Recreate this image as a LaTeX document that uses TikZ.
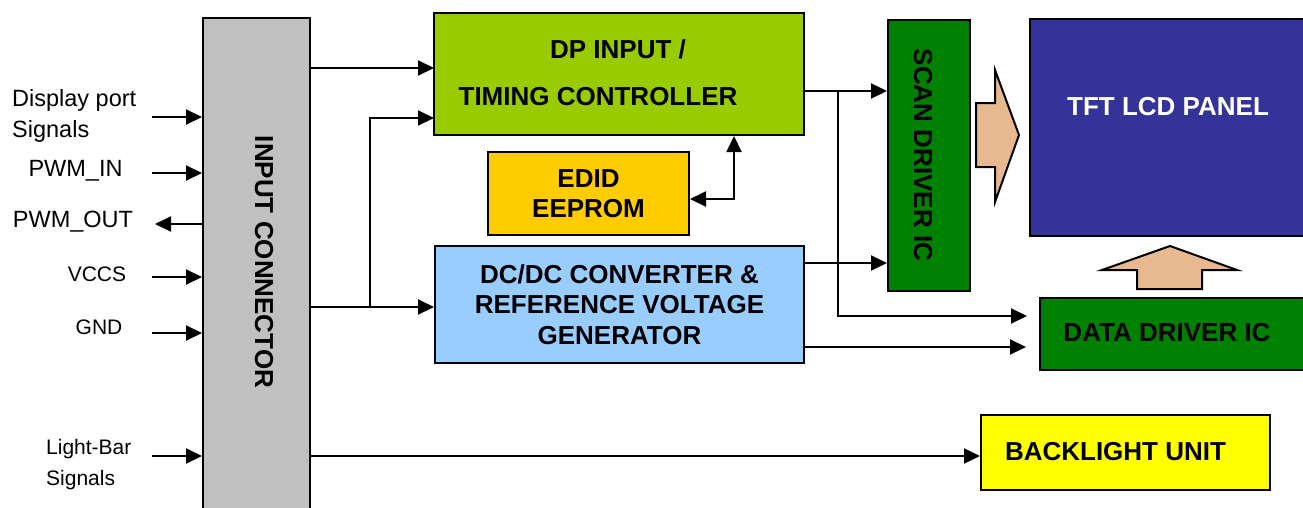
\documentclass[tikz,border=0pt]{standalone}
\usepackage{fontspec}
\setmainfont{Liberation Sans}
\usetikzlibrary{arrows.meta}
\definecolor{conngray}{HTML}{C0C0C0}
\definecolor{dpgreen}{HTML}{99CC00}
\definecolor{edidyellow}{HTML}{FFCC00}
\definecolor{dcblue}{HTML}{99CCFF}
\definecolor{drvgreen}{HTML}{008000}
\definecolor{panelblue}{HTML}{333399}
\definecolor{blyellow}{HTML}{FFFF00}
\definecolor{bigarrow}{HTML}{E8B890}
\begin{document}
\begin{tikzpicture}[x=1pt, y=-1pt,
    box/.style={draw, line width=2pt, inner sep=0pt, align=center,
      font=\bfseries\fontsize{26}{30.5}\selectfont},
    lbl/.style={inner sep=0pt, font=\bfseries\fontsize{26}{30.5}\selectfont},
    sig/.style={inner sep=0pt, align=left, font=\fontsize{23.5}{31}\selectfont},
    sigsm/.style={inner sep=0pt, align=left, font=\fontsize{21}{31}\selectfont},
    wire/.style={line width=2pt, -{Triangle[length=16pt,width=15pt]}},
    biwire/.style={line width=2pt, {Triangle[length=16pt,width=15pt]}-{Triangle[length=16pt,width=15pt]}},
    bigarr/.style={draw, line width=2pt, fill=bigarrow, line join=miter}]
  \useasboundingbox (0,0) rectangle (1303,507);
  \clip (0,0) rectangle (1303,507);
  % blocks
  \node[box, fill=conngray, minimum width=107pt, minimum height=502pt] (conn) at (256.5,269) {};
  \node[lbl, rotate=-90] (conntxt) at (264,262) {INPUT CONNECTOR};
  \node[box, fill=dpgreen, minimum width=370pt, minimum height=122pt] (dp) at (619,74) {};
  \node[lbl] (dptxt1) at (618,49) {DP INPUT /};
  \node[lbl] (dptxt2) at (598,97) {TIMING CONTROLLER};
  \node[box, fill=edidyellow, minimum width=201pt, minimum height=83pt] (edid) at (588.5,193.5) {EDID\\EEPROM};
  \node[box, fill=dcblue, minimum width=369pt, minimum height=117pt] (dc) at (619.5,304.5)
    {DC/DC CONVERTER \&\\REFERENCE VOLTAGE\\GENERATOR};
  \node[box, fill=drvgreen, minimum width=82pt, minimum height=271pt] (scan) at (929,155.5) {};
  \node[lbl, rotate=-90] (scantxt) at (923,155) {SCAN DRIVER IC};
  \node[box, fill=panelblue, minimum width=290pt, minimum height=217pt] (tft) at (1175,127.5) {};
  \node[lbl, text=white] (tfttxt) at (1168,107) {TFT LCD PANEL};
  \node[box, fill=drvgreen, minimum width=270pt, minimum height=72pt] (data) at (1175,334) {};
  \node[lbl] (datatxt) at (1167,333) {DATA DRIVER IC};
  \node[box, fill=blyellow, minimum width=289pt, minimum height=75pt] (bl) at (1125.5,452.5) {};
  \node[lbl] (bltxt) at (1115.5,452) {BACKLIGHT UNIT};

  % signals on the left
  \node[sig, anchor=west] (dps) at (12,116) {Display port\\Signals};
  \node[sig] (pwmin) at (75.5,171) {PWM\_IN};
  \node[sig] (pwmout) at (73,222) {PWM\_OUT};
  \node[sigsm] (vccs) at (97,274) {VCCS};
  \node[sigsm] (gnd) at (99,327) {GND};
  \node[sigsm, anchor=west] (lbar) at (46,465) {Light-Bar\\Signals};
  \foreach \n/\y in {dps/117, pwmin/173, vccs/277, gnd/333, lbar/456} {
    \coordinate (\n-w) at (152,\y);
    \draw[wire] (\n-w) -- (conn.west |- \n-w);
  }
  \coordinate (pwmout-w) at (155,224);
  \draw[wire] (conn.west |- pwmout-w) -- (pwmout-w);

  % connector to blocks
  \coordinate (dpin1) at (434,68);
  \coordinate (dpin2) at (434,118);
  \coordinate (split) at (370,307);
  \draw[wire] (conn.east |- dpin1) -- (dpin1);
  \draw[wire] (conn.east |- split) -- (dc.west |- split);
  \draw[wire] (split) |- (dpin2);
  \draw[wire] (conn.east |- lbar-w) -- (bl.west |- lbar-w);

  % edid
  \coordinate (edidtap) at (734,199);
  \draw[biwire] (edid.east |- edidtap) -| (dp.south -| edidtap);

  % drivers
  \coordinate (dpout) at (804,91);
  \coordinate (join) at (838,91);
  \coordinate (datain1) at (1040,316);
  \coordinate (dcout1) at (804,263);
  \coordinate (dcout2) at (804,347);
  \draw[wire] (dpout) -- (scan.west |- dpout);
  \draw[wire, shorten >=13pt] (join) |- (datain1);
  \draw[wire] (dcout1) -- (scan.west |- dcout1);
  \draw[wire, shorten >=13pt] (dcout2) -- (data.west |- dcout2);

  % big arrows to the panel
  \draw[bigarr] (976,103) -- (995,103) -- (995,70) -- (1019,135) -- (995,202)
    -- (995,167) -- (976,167) -- cycle;
  \draw[bigarr] (1137,289) -- (1137,270) -- (1102,270) -- (1170,246) -- (1237,270)
    -- (1202,270) -- (1202,289) -- cycle;
\end{tikzpicture}
\end{document}
